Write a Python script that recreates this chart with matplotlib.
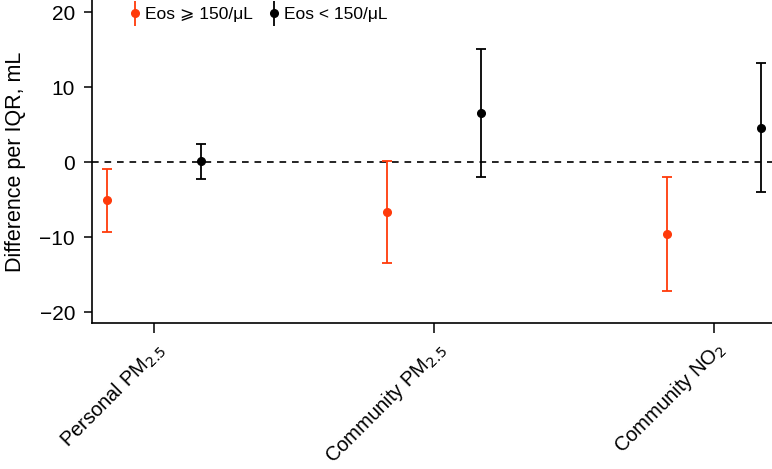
import numpy as np
import matplotlib.pyplot as plt
from matplotlib.lines import Line2D
from matplotlib.legend_handler import HandlerTuple

plt.rcParams['font.family'] = ['Liberation Sans', 'DejaVu Sans']

# exposures (x axis)
exposures = ['Personal PM$_{2.5}$', 'Community PM$_{2.5}$', 'Community NO$_2$']

# Eos >= 150/uL
high_est = [-5.1, -6.6, -9.6]
high_lo = [-9.3, -13.4, -17.2]
high_hi = [-0.9, 0.2, -2.0]

# Eos < 150/uL
low_est = [0.1, 6.5, 4.6]
low_lo = [-2.2, -2.0, -4.0]
low_hi = [2.4, 15.1, 13.2]

red = '#ff3a0a'
offset = 0.167

fig = plt.figure(figsize=(7.72, 4.69), dpi=100)
ax = fig.add_axes([0.1188, 0.3107, 0.8812, 0.6893])

x = np.arange(1, len(exposures) + 1)

def draw(xpos, est, lo, hi, color):
    est = np.array(est)
    err = [est - np.array(lo), np.array(hi) - est]
    ax.errorbar(xpos, est, yerr=err, fmt='o', color=color, ecolor=color,
                markersize=5.5, elinewidth=1.3, capsize=3.5, capthick=1.3)

ax.axhline(0, color='black', lw=1.2, linestyle=(0, (4, 3.5)), zorder=0)
draw(x - offset, high_est, high_lo, high_hi, red)
draw(x + offset, low_est, low_lo, low_hi, 'black')

ax.set_xlim(0.7775, 3.207)
ax.set_ylim(-21.5, 21.6)
ax.set_yticks([-20, -10, 0, 10, 20])
ax.set_yticklabels(['\u221220', '\u221210', '0', '10', '20'])
ax.set_xticks(x)
ax.set_xticklabels(exposures, rotation=45, ha='right', rotation_mode='anchor')

for s in ['top', 'right']:
    ax.spines[s].set_visible(False)
for s in ['left', 'bottom']:
    ax.spines[s].set_linewidth(1.2)
ax.tick_params(axis='y', direction='out', length=6, width=1.1,
               labelsize=15, pad=6)
ax.tick_params(axis='x', direction='out', length=7.5, width=1.1,
               pad=3, labelsize=14.5)

ax.set_ylabel('Difference per IQR, mL', fontsize=15.5, labelpad=10)

def handle(color):
    bar = Line2D([], [], color=color, marker='|', markersize=18,
                 markeredgewidth=1.3, linestyle='none')
    dot = Line2D([], [], color=color, marker='o', markersize=5.5,
                 linestyle='none')
    return (bar, dot)

ax.legend([handle(red), handle('black')],
          ['Eos \u2a7e 150/\u03bcL', 'Eos < 150/\u03bcL'],
          handler_map={tuple: HandlerTuple(ndivide=1)},
          loc='upper left', bbox_to_anchor=(0.03, 1.026), ncol=2,
          frameon=False, fontsize=12.5, handlelength=0.8, handletextpad=0.2,
          columnspacing=0.8)

fig.savefig('out.png', dpi=100)
